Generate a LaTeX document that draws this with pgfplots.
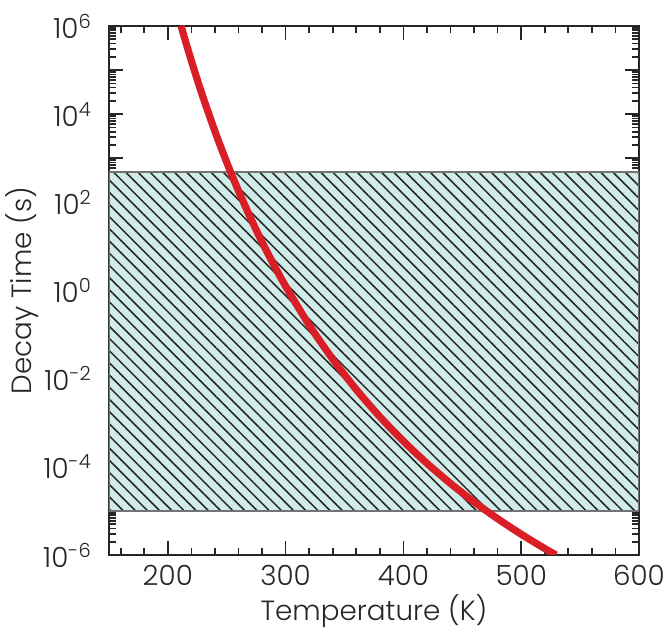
\documentclass[border=0pt]{standalone}
\usepackage{fontspec}
\setmainfont{Poppins}[UprightFont={* Light}]
\usepackage{pgfplots}
\pgfplotsset{compat=1.18}
\usetikzlibrary{patterns.meta}
\definecolor{hatchfill}{RGB}{208,236,232}
\definecolor{curvered}{RGB}{218,30,38}
\begin{document}
\begin{tikzpicture}
\begin{axis}[
  scale only axis,
  width=190.8pt, height=190.4pt,
  xmin=150, xmax=600,
  ymode=log, ymin=1e-6, ymax=1e6,
  axis line style={line width=0.7pt, black!85},
  tick style={black!85, line width=0.6pt},
  tick align=inside,
  xtick={200,300,400,500,600},
  minor xtick={160,180,220,240,260,280,320,340,360,380,420,440,460,480,520,540,560,580},
  ytick={1e-6,1e-5,1e-4,1e-3,1e-2,1e-1,1,1e1,1e2,1e3,1e4,1e5,1e6},
  minor ytick={
   2e-6,3e-6,4e-6,5e-6,6e-6,7e-6,8e-6,9e-6,
   2e-5,3e-5,4e-5,5e-5,6e-5,7e-5,8e-5,9e-5,
   2e-4,3e-4,4e-4,5e-4,6e-4,7e-4,8e-4,9e-4,
   2e-3,3e-3,4e-3,5e-3,6e-3,7e-3,8e-3,9e-3,
   2e-2,3e-2,4e-2,5e-2,6e-2,7e-2,8e-2,9e-2,
   2e-1,3e-1,4e-1,5e-1,6e-1,7e-1,8e-1,9e-1,
   2,3,4,5,6,7,8,9,
   2e1,3e1,4e1,5e1,6e1,7e1,8e1,9e1,
   2e2,3e2,4e2,5e2,6e2,7e2,8e2,9e2,
   2e3,3e3,4e3,5e3,6e3,7e3,8e3,9e3,
   2e4,3e4,4e4,5e4,6e4,7e4,8e4,9e4,
   2e5,3e5,4e5,5e5,6e5,7e5,8e5,9e5},
  yticklabels={10\textsuperscript{-6},,10\textsuperscript{-4},,10\textsuperscript{-2},,10\textsuperscript{0},,10\textsuperscript{2},,10\textsuperscript{4},,10\textsuperscript{6}},
  major tick length=5pt,
  minor tick length=2.5pt,
  /pgf/number format/assume math mode=true,
  tick label style={font=\fontsize{10}{12}\selectfont, black!85},
  yticklabel style={xshift=-2.5pt},
  label style={font=\fontsize{10}{12}\selectfont, black!85},
  xlabel={Temperature (K)},
  ylabel={Decay Time (s)},
  xlabel style={at={(axis description cs:0.5,-0.124)}, anchor=base},
  ylabel style={at={(axis description cs:-0.164,0.5)}, anchor=center},
  clip=true,
]
\addplot[draw=black!55, line width=0.5pt, fill=hatchfill,
  postaction={pattern={Lines[angle=-45, distance=3.1pt, line width=0.55pt]}, pattern color=black!85}]
  coordinates {(150,1e-5) (600,1e-5) (600,490) (150,490)} -- cycle;
\addplot[curvered, line width=2.6pt, smooth] coordinates {
(211.3,1e6) (215,4.53e5) (220,1.63e5) (225,6.08e4) (230,2.38e4)
(240,4.09e3) (250,811) (260,182) (270,45.6) (280,12.6) (290,3.82)
(300,1.25) (320,0.165) (340,0.0277) (360,5.66e-3) (380,1.37e-3)
(400,3.81e-4) (420,1.20e-4) (440,4.19e-5) (460,1.60e-5) (480,6.65e-6)
(500,2.96e-6) (520,1.40e-6) (529.6,1e-6)
};
\end{axis}
\pgfresetboundingbox
\path ([xshift=-39.2pt,yshift=-27.4pt]current axis.south west) rectangle ([xshift=9.36pt,yshift=9.36pt]current axis.north east);
\end{tikzpicture}
\end{document}
